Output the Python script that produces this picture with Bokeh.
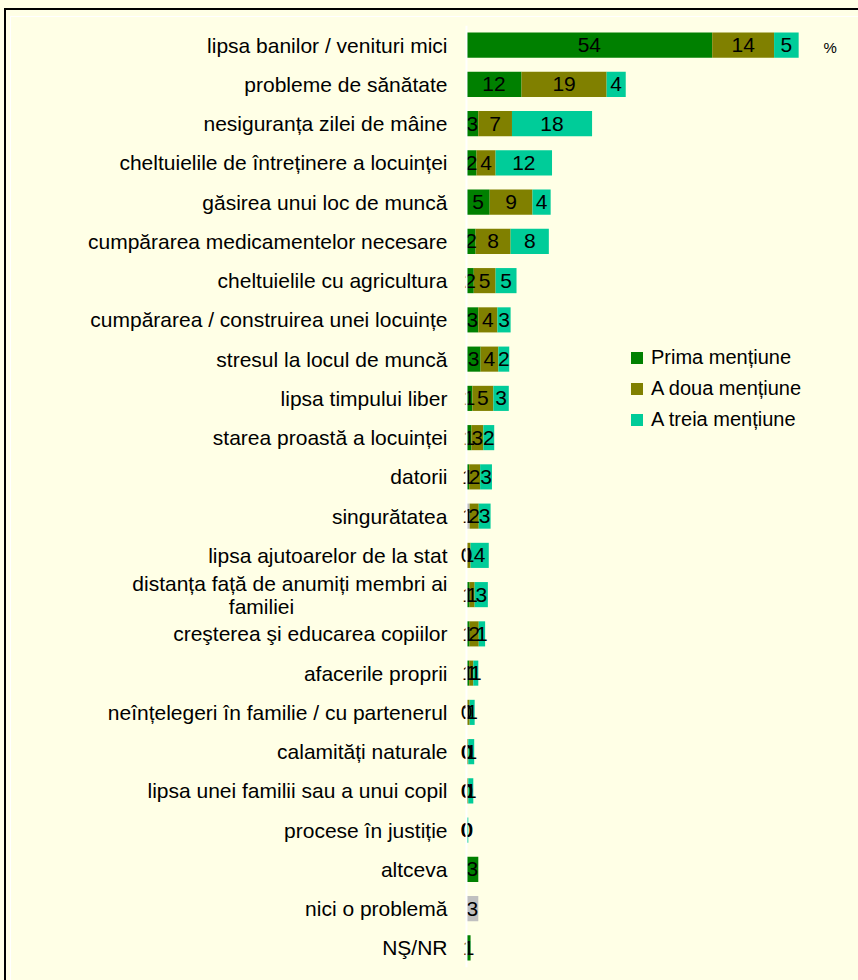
from bokeh.plotting import figure
from bokeh.models import ColumnDataSource, FactorRange, Legend, LegendItem, Span, Label
from bokeh.core.properties import value
from bokeh.embed import file_html
from bokeh.resources import INLINE

categories = [
    "lipsa banilor / venituri mici",
    "probleme de sănătate",
    "nesiguranța zilei de mâine",
    "cheltuielile de întreținere a locuinței",
    "găsirea unui loc de muncă",
    "cumpărarea medicamentelor necesare",
    "cheltuielile cu agricultura",
    "cumpărarea / construirea unei locuințe",
    "stresul la locul de muncă",
    "lipsa timpului liber",
    "starea proastă a locuinței",
    "datorii",
    "singurătatea",
    "lipsa ajutoarelor de la stat",
    "distanța față de anumiți membri ai familiei",
    "creşterea şi educarea copiilor",
    "afacerile proprii",
    "neînțelegeri în familie / cu partenerul",
    "calamități naturale",
    "lipsa unei familii sau a unui copil",
    "procese în justiție",
    "altceva",
    "nici o problemă",
    "NŞ/NR",
]
prima = [54, 12.1, 2.6, 2.2, 5.1, 2.0, 1.6, 2.6, 3.1, 1.3, 1.1, 0.6, 0.7, 0, 0.7, 0.7, 0.6, 0, 0, 0, 0, 2.6, 2.6, 0.9]
a_doua = [13.6, 18.7, 7.4, 4.2, 9.4, 7.7, 4.8, 4.2, 3.9, 4.6, 2.6, 2.4, 2.0, 0.9, 1.1, 2.0, 0.9, 0.7, 0.4, 0.4, 0, None, None, None]
a_treia = [5.4, 4.2, 17.6, 12.4, 4.0, 8.4, 4.6, 2.9, 2.4, 3.4, 2.4, 2.6, 2.6, 4.0, 2.9, 1.4, 1.1, 1.1, 1.3, 1.1, 0.4, None, None, None]
grey_first = ["singurătatea", "nici o problemă"]
series_names = ["Prima mențiune", "A doua mențiune", "A treia mențiune"]
series_colors = ["#008000", "#808000", "#00CC99"]
grey_color = "#C0C0C0"
wrapped_category = "distanța față de anumiți membri ai familiei"
wrapped_lines = ["distanța față de anumiți membri ai", "familiei"]

BG = "#FFFFE6"
FONT = "Liberation Sans"

p = figure(width=858, height=980, y_range=FactorRange(factors=list(reversed(categories))),
           x_range=(-102.4, 86.15), output_backend="svg", toolbar_location=None,
           x_axis_location=None, y_axis_location=None, min_border_left=0, min_border_right=0,
           min_border_top=25, min_border_bottom=13)
p.background_fill_color = BG
p.border_fill_color = BG
p.outline_line_color = None
p.xgrid.visible = False
p.ygrid.visible = False

# category labels (drawn as text so the long one can wrap onto two lines)
lab = {"y": [], "t": [], "xo": [], "yo": [], "al": []}
for cat in categories:
    if cat == wrapped_category:
        lab["y"] += [cat, cat]
        lab["t"] += wrapped_lines
        lab["xo"] += [-19, -205]
        lab["yo"] += [-11, 12]
        lab["al"] += ["right", "center"]
    else:
        lab["y"].append(cat)
        lab["t"].append(cat)
        lab["xo"].append(-19)
        lab["yo"].append(0)
        lab["al"].append("right")
lab["x"] = [0] * len(lab["y"])
p.text(x="x", y="y", text="t", x_offset="xo", y_offset="yo", text_align="al",
       text_baseline="middle", source=ColumnDataSource(lab), text_font=value(FONT),
       text_font_size="21px", text_color="black")

p.add_layout(Span(location=0, dimension="height", line_color="white", line_width=2))

series = [prima, a_doua, a_treia]
cum = [0.0] * len(categories)
items = []
text_rows = {"x": [], "y": [], "t": []}
for si, vals in enumerate(series):
    main = {"y": [], "left": [], "right": []}
    grey = {"y": [], "left": [], "right": []}
    for ci, cat in enumerate(categories):
        v = vals[ci]
        if v is None:
            continue
        left = cum[ci]
        right = left + v
        cum[ci] = right
        target = grey if (si == 0 and cat in grey_first) else main
        target["y"].append(cat)
        target["left"].append(left)
        target["right"].append(right)
        text_rows["x"].append(left + v / 2)
        text_rows["y"].append(cat)
        text_rows["t"].append(str(int(round(v))))
    r = p.hbar(y="y", left="left", right="right", height=0.64, source=ColumnDataSource(main),
               fill_color=series_colors[si], line_color=None)
    items.append(LegendItem(label=series_names[si], renderers=[r]))
    if grey["y"]:
        p.hbar(y="y", left="left", right="right", height=0.64, source=ColumnDataSource(grey),
               fill_color=grey_color, line_color=None)

p.text(x="x", y="y", text="t", source=ColumnDataSource(text_rows), text_align="center",
       text_baseline="middle", text_font=value(FONT), text_font_size="21px", text_color="black")

legend = Legend(items=items, location=(629, 536), orientation="vertical")
legend.background_fill_alpha = 0
legend.border_line_color = None
legend.padding = 0
legend.margin = 0
legend.spacing = 8
legend.glyph_width = 15
legend.glyph_height = 15
legend.label_height = 18
legend.label_standoff = 7
legend.label_text_font = FONT
legend.label_text_font_size = "20px"
legend.label_text_color = "#000000"
p.add_layout(legend, "center")

p.add_layout(Label(x=823, y=912, x_units="screen", y_units="screen", text="%",
                   text_font=FONT, text_font_size="15px", text_color="black"))

html = file_html(p, INLINE)
frame_div = ('<div style="position:fixed;left:4px;top:8px;width:2000px;height:2000px;'
             'border-left:2px solid #000;border-top:2px solid #000;pointer-events:none;z-index:10">'
             '<div style="position:absolute;left:4px;top:6px;width:2000px;height:2000px;'
             'border-left:1px solid #fff;border-top:1px solid #fff"></div></div>')
html = html.replace("</head>", "<style>body{background:%s;}</style></head>" % BG, 1)
html = html.replace("</body>", frame_div + "</body>", 1)
open("out.html", "w").write(html)
